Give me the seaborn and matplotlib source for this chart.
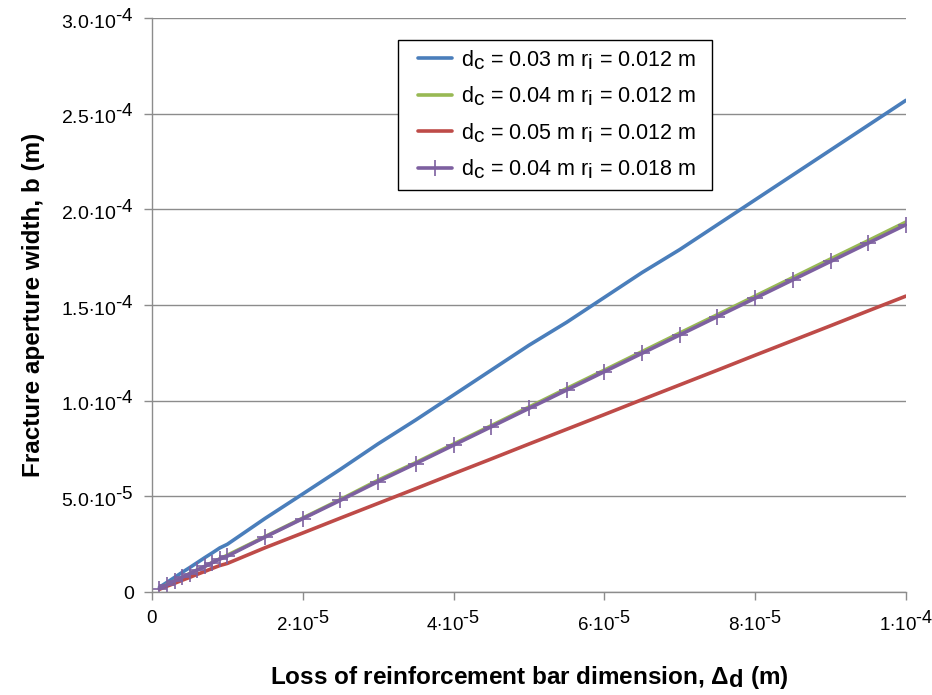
import matplotlib
matplotlib.use("Agg")
import matplotlib.pyplot as plt
import matplotlib._mathtext as _mt
import seaborn as sns
import pandas as pd
from matplotlib.patches import Rectangle
from matplotlib.ticker import FixedLocator, FixedFormatter

# larger superscripts/subscripts, as in the reference
_mt.SHRINK_FACTOR = 0.97

# ---- data ----
loss_um = [1, 2, 3, 4, 5, 6, 7, 8, 9, 10, 15, 20, 25, 30, 35, 40, 45, 50,
           55, 60, 65, 70, 75, 80, 85, 90, 95, 100]  # x in 1e-6 m
blue_e5 = [0.26, 0.51, 0.77, 1.03, 1.28, 1.54, 1.80, 2.05, 2.31, 2.50, 3.85, 5.13,
           6.42, 7.75, 9.00, 10.3, 11.6, 12.9, 14.1, 15.4, 16.7, 17.9, 19.2, 20.5,
           21.8, 23.1, 24.4, 25.7]
green_e5 = [0.19, 0.39, 0.58, 0.77, 0.97, 1.16, 1.35, 1.55, 1.74, 1.93, 2.90, 3.87,
            4.84, 5.85, 6.77, 7.74, 8.70, 9.67, 10.64, 11.6, 12.57, 13.54, 14.5,
            15.47, 16.44, 17.41, 18.37, 19.34]
red_e5 = [0.15, 0.31, 0.46, 0.62, 0.77, 0.93, 1.08, 1.24, 1.39, 1.50, 2.32, 3.09,
          3.87, 4.64, 5.41, 6.19, 6.96, 7.74, 8.51, 9.28, 10.06, 10.83, 11.60,
          12.38, 13.15, 13.92, 14.70, 15.47]
purple_e5 = [0.19, 0.38, 0.58, 0.77, 0.96, 1.15, 1.34, 1.54, 1.73, 1.88, 2.88, 3.84,
             4.80, 5.78, 6.72, 7.68, 8.64, 9.60, 10.56, 11.52, 12.48, 13.44, 14.40,
             15.36, 16.32, 17.28, 18.24, 19.2]
series_labels = [r"d$_\mathregular{c}$ = 0.03 m r$_\mathregular{i}$ = 0.012 m",
                 r"d$_\mathregular{c}$ = 0.04 m r$_\mathregular{i}$ = 0.012 m",
                 r"d$_\mathregular{c}$ = 0.05 m r$_\mathregular{i}$ = 0.012 m",
                 r"d$_\mathregular{c}$ = 0.04 m r$_\mathregular{i}$ = 0.018 m"]
colors = ["#4a7ebb", "#98b954", "#be4b48", "#7d60a0"]
x_ticks = [0, 2e-5, 4e-5, 6e-5, 8e-5, 1e-4]
x_ticklabels = ["0", "$2{\\cdot}10^{\u20105}$", "$4{\\cdot}10^{\u20105}$",
                "$6{\\cdot}10^{\u20105}$", "$8{\\cdot}10^{\u20105}$", "$1{\\cdot}10^{\u20104}$"]
y_ticks = [0, 5e-5, 1e-4, 1.5e-4, 2e-4, 2.5e-4, 3e-4]
y_ticklabels = ["0", "$5.0{\\cdot}10^{\u20105}$", "$1.0{\\cdot}10^{\u20104}$",
                "$1.5{\\cdot}10^{\u20104}$", "$2.0{\\cdot}10^{\u20104}$",
                "$2.5{\\cdot}10^{\u20104}$", "$3.0{\\cdot}10^{\u20104}$"]

sns.set_theme(style="white")
plt.rcParams["font.family"] = ["Liberation Sans", "DejaVu Sans"]
plt.rcParams["mathtext.fontset"] = "custom"
plt.rcParams["mathtext.rm"] = "Liberation Sans"
plt.rcParams["mathtext.it"] = "Liberation Sans"
plt.rcParams["mathtext.bf"] = "Liberation Sans:bold"
plt.rcParams["text.color"] = "black"
plt.rcParams["axes.labelcolor"] = "black"

fig = plt.figure(figsize=(9.32, 6.95), dpi=100)
ax = fig.add_axes([0.163, 0.148, 0.809, 0.826])

x = [v * 1e-6 for v in loss_um]
all_series = [blue_e5, green_e5, red_e5, purple_e5]
for i, (vals, lab, col) in enumerate(zip(all_series, series_labels, colors)):
    df = pd.DataFrame({"x": x, "y": [v * 1e-5 for v in vals]})
    kw = {}
    if i == 3:
        kw = dict(marker="+", markersize=11, markeredgewidth=1.2, markeredgecolor=col)
    sns.lineplot(data=df, x="x", y="y", ax=ax, color=col, linewidth=2.6, label=lab, **kw)

ax.set_xlim(0, 1e-4)
ax.set_ylim(0, 3e-4)
ax.xaxis.set_major_locator(FixedLocator(x_ticks))
ax.xaxis.set_major_formatter(FixedFormatter(x_ticklabels))
ax.yaxis.set_major_locator(FixedLocator(y_ticks))
ax.yaxis.set_major_formatter(FixedFormatter(y_ticklabels))
ax.grid(axis="y", color="#8c8c8c", linewidth=1.0)
ax.set_axisbelow(True)
for s in ["top", "right"]:
    ax.spines[s].set_visible(False)
for s in ["left", "bottom"]:
    ax.spines[s].set_color("#8c8c8c")
    ax.spines[s].set_linewidth(1.0)
ax.tick_params(axis="both", which="major", direction="out", length=6, width=1.0,
               color="#8c8c8c", labelcolor="black", left=True, bottom=True)
ax.tick_params(axis="x", pad=7, labelsize=13.5)
ax.tick_params(axis="y", pad=7, labelsize=14)

ax.set_xlabel(r"Loss of reinforcement bar dimension, $\mathbf{\Delta_d}$ (m)",
              fontsize=17.5, fontweight="bold", labelpad=21)
ax.set_ylabel("Fracture aperture width, b (m)", fontsize=17.5, fontweight="bold", labelpad=12)

leg = ax.legend(loc="upper left", bbox_to_anchor=(0.3528, 0.948), fontsize=15.5,
                frameon=False, handlelength=1.6, labelspacing=0.6,
                borderpad=0.0, handletextpad=0.4, borderaxespad=0)
for h in leg.get_lines():
    h.set_linewidth(2.6)
ax.add_patch(Rectangle((0.3263, 0.7003), 0.4164, 0.2614, transform=ax.transAxes,
                       facecolor="white", edgecolor="black", linewidth=1.0, zorder=4))
leg.set_zorder(5)

fig.savefig("out.png", dpi=100)
